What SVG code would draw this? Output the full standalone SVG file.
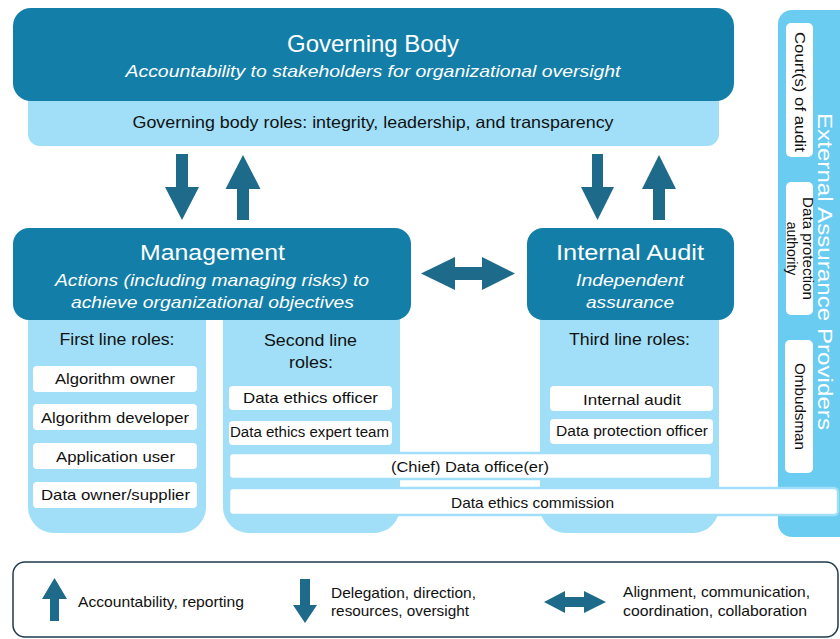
<svg xmlns="http://www.w3.org/2000/svg" width="840" height="639" viewBox="0 0 840 639">
<style>
text{font-family:"Liberation Sans",Arial,sans-serif;}
.dark{fill:#137EA7;}
.col{fill:#A0DFF7;}
.ext{fill:#6BCCF1;}
.wbox{fill:#fff;}
.wide{fill:#fff;stroke:#A0DFF7;stroke-width:2.5;}
.arrow{fill:#1D6A8A;}
.title{fill:#fff;font-size:22.5px;text-anchor:middle;}
.sub{fill:#fff;font-size:17px;font-style:italic;text-anchor:middle;}
.hdr{fill:#111;font-size:16.5px;text-anchor:middle;}
.lbl{fill:#111;font-size:15px;text-anchor:middle;}
.vt{fill:#111;font-size:14.5px;text-anchor:middle;}
.leg{fill:#111;font-size:14.5px;}
</style>

<g id="governing-body">
  <rect class="col" x="28" y="60" width="691" height="86" rx="12"/>
  <rect class="dark" x="13" y="8" width="721" height="93" rx="18"/>
  <text class="title" x="373" y="52" style="font-size:24px" textLength="172" lengthAdjust="spacingAndGlyphs">Governing Body</text>
  <text class="sub" x="373" y="77" textLength="495" lengthAdjust="spacingAndGlyphs">Accountability to stakeholders for organizational oversight</text>
  <text class="hdr" x="373" y="128" textLength="481" lengthAdjust="spacingAndGlyphs">Governing body roles: integrity, leadership, and transparency</text>
</g>

<g id="first-line">
  <rect class="col" x="28" y="290" width="178" height="243" rx="26"/>
  <text class="hdr" x="117" y="345" textLength="115" lengthAdjust="spacingAndGlyphs">First line roles:</text>
  <rect class="wbox" x="33" y="366" width="164" height="26" rx="4"/>
  <text class="lbl" x="115" y="384" textLength="120" lengthAdjust="spacingAndGlyphs">Algorithm owner</text>
  <rect class="wbox" x="33" y="404" width="164" height="26" rx="4"/>
  <text class="lbl" x="115" y="423" textLength="148" lengthAdjust="spacingAndGlyphs">Algorithm developer</text>
  <rect class="wbox" x="33" y="443" width="164" height="26" rx="4"/>
  <text class="lbl" x="115.5" y="462" textLength="119" lengthAdjust="spacingAndGlyphs">Application user</text>
  <rect class="wbox" x="33" y="482" width="164" height="26" rx="4"/>
  <text class="lbl" x="115.5" y="500" textLength="149" lengthAdjust="spacingAndGlyphs">Data owner/supplier</text>
</g>

<g id="second-line">
  <rect class="col" x="223" y="290" width="177" height="243" rx="26"/>
  <text class="hdr" x="310.5" y="346" textLength="93" lengthAdjust="spacingAndGlyphs">Second line</text>
  <text class="hdr" x="311" y="368" textLength="44" lengthAdjust="spacingAndGlyphs">roles:</text>
  <rect class="wbox" x="229" y="386" width="163" height="24" rx="4"/>
  <text class="lbl" x="310.5" y="403" textLength="135" lengthAdjust="spacingAndGlyphs">Data ethics officer</text>
  <rect class="wbox" x="229" y="421" width="163" height="24" rx="4"/>
  <text class="lbl" x="309.5" y="437" style="font-size:14px" textLength="159" lengthAdjust="spacingAndGlyphs">Data ethics expert team</text>
</g>

<g id="third-line">
  <rect class="col" x="540" y="290" width="179" height="243" rx="26"/>
  <text class="hdr" x="629.5" y="345" textLength="121" lengthAdjust="spacingAndGlyphs">Third line roles:</text>
  <rect class="wbox" x="550" y="386" width="163" height="25" rx="4"/>
  <text class="lbl" x="632" y="405" textLength="98" lengthAdjust="spacingAndGlyphs">Internal audit</text>
  <rect class="wbox" x="550" y="419" width="163" height="25" rx="4"/>
  <text class="lbl" x="632" y="436" style="font-size:14px" textLength="152" lengthAdjust="spacingAndGlyphs">Data protection officer</text>
</g>

<g id="management">
  <rect class="dark" x="13" y="228" width="398" height="92" rx="16"/>
  <text class="title" x="212.5" y="260" textLength="145" lengthAdjust="spacingAndGlyphs">Management</text>
  <text class="sub" x="212" y="286" textLength="314" lengthAdjust="spacingAndGlyphs">Actions (including managing risks) to</text>
  <text class="sub" x="212.5" y="308" textLength="283" lengthAdjust="spacingAndGlyphs">achieve organizational objectives</text>
</g>

<g id="internal-audit">
  <rect class="dark" x="527" y="228" width="207" height="92" rx="16"/>
  <text class="title" x="630" y="260" textLength="148" lengthAdjust="spacingAndGlyphs">Internal Audit</text>
  <text class="sub" x="630" y="286" textLength="108" lengthAdjust="spacingAndGlyphs">Independent</text>
  <text class="sub" x="630" y="308" textLength="88" lengthAdjust="spacingAndGlyphs">assurance</text>
</g>

<g id="chief-data-officer">
  <rect class="wide" x="229" y="453" width="483" height="26" rx="4"/>
  <text class="lbl" x="470" y="472" textLength="158" lengthAdjust="spacingAndGlyphs">(Chief) Data office(er)</text>
</g>

<g id="external-assurance">
  <rect class="ext" x="778" y="10" width="80" height="527" rx="14"/>
  <text x="818" y="271.5" transform="rotate(90 818 271.5)" style="fill:#fff;font-size:21px;text-anchor:middle" textLength="317" lengthAdjust="spacingAndGlyphs">External Assurance Providers</text>
</g>

<g id="courts-of-audit">
  <rect class="wbox" x="786" y="23" width="27" height="134" rx="5"/>
  <text class="vt" x="799.5" y="92" transform="rotate(90 799.5 92)" dy="5" textLength="120" lengthAdjust="spacingAndGlyphs">Court(s) of audit</text>
</g>

<g id="data-protection-authority">
  <rect class="wbox" x="786" y="182" width="27" height="133" rx="5"/>
  <text class="vt" x="808" y="248.5" transform="rotate(90 808 248.5)" dy="5" style="font-size:14px" textLength="103" lengthAdjust="spacingAndGlyphs">Data protection</text>
  <text class="vt" x="792" y="248.5" transform="rotate(90 792 248.5)" dy="5" style="font-size:14px">authority</text>
</g>

<g id="ombudsman">
  <rect class="wbox" x="785" y="340" width="28" height="133" rx="5"/>
  <text class="vt" x="799.5" y="406.5" transform="rotate(90 799.5 406.5)" dy="5" textLength="87" lengthAdjust="spacingAndGlyphs">Ombudsman</text>
</g>

<g id="data-ethics-commission">
  <rect class="wide" x="229" y="488" width="609" height="27" rx="4"/>
  <text class="lbl" x="532.5" y="508" textLength="163" lengthAdjust="spacingAndGlyphs">Data ethics commission</text>
</g>

<g id="connectors">
  <polygon class="arrow" points="176,154 188,154 188,187 199,187 182,220 165,187 176,187"/>
  <polygon class="arrow" points="243,155 260.5,189 249,189 249,220 237,220 237,189 225.5,189"/>
  <polygon class="arrow" points="592,154 603,154 603,187 614,187 597.5,220 581,187 592,187"/>
  <polygon class="arrow" points="659,155 676,189 665,189 665,220 653,220 653,189 642,189"/>
  <polygon class="arrow" points="421,273.5 455,257 455,267 482,267 482,257 515,273.5 482,290 482,280 455,280 455,290"/>
</g>

<g id="legend">
  <rect x="13" y="562" width="825" height="75" rx="12" fill="#fff" stroke="#1E3A4C" stroke-width="1.5"/>
  <polygon class="arrow" points="54.5,578 67,599 59,599 59,621 50,621 50,599 42,599"/>
  <text class="leg" x="78" y="607" textLength="166" lengthAdjust="spacingAndGlyphs">Accountability, reporting</text>
  <polygon class="arrow" points="300,579 310,579 310,605 317,605 305,623 293,605 300,605"/>
  <text class="leg" x="331" y="598" textLength="145" lengthAdjust="spacingAndGlyphs">Delegation, direction,</text>
  <text class="leg" x="331" y="616" textLength="138" lengthAdjust="spacingAndGlyphs">resources, oversight</text>
  <polygon class="arrow" points="544,602 565,591 565,597 584,597 584,591 606,602 584,613 584,607 565,607 565,613"/>
  <text class="leg" x="623" y="597" textLength="187" lengthAdjust="spacingAndGlyphs">Alignment, communication,</text>
  <text class="leg" x="623" y="616" textLength="184" lengthAdjust="spacingAndGlyphs">coordination, collaboration</text>
</g>
</svg>
